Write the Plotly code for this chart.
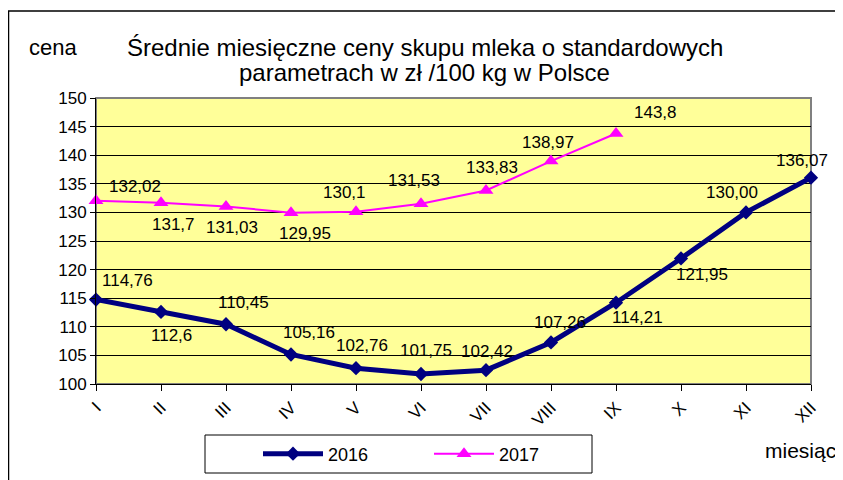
import plotly.graph_objects as go

MONTHS = ['I', 'II', 'III', 'IV', 'V', 'VI', 'VII', 'VIII', 'IX', 'X', 'XI', 'XII']

PRICES_2016 = [114.76, 112.6, 110.45, 105.16, 102.76, 101.75, 102.42, 107.26, 114.21, 121.95, 130.00, 136.07]
LABELS_2016 = ['114,76', '112,6', '110,45', '105,16', '102,76', '101,75', '102,42', '107,26', '114,21', '121,95', '130,00', '136,07']

PRICES_2017 = [132.02, 131.7, 131.03, 129.95, 130.1, 131.53, 133.83, 138.97, 143.8]
LABELS_2017 = ['132,02', '131,7', '131,03', '129,95', '130,1', '131,53', '133,83', '138,97', '143,8']

# label offsets in px (dx right, dy down), mimicking the Excel placement
OFFSETS_2016 = [(31, -19), (10, 24), (17, -22), (18, -22), (6, -23), (5, -23),
                (1, -19), (9, -20), (21, 15), (21, 16), (-14, -20), (-9, -17)]
OFFSETS_2017 = [(39, -14), (12, 22), (6, 21), (14, 21), (-12, -19), (-7, -23),
                (6, -23), (-3, -19), (39, -21)]

FONT = 'Liberation Sans, Arial, sans-serif'
PAGE_OFF = 8  # default body margin of the html page
W, H = 843 - PAGE_OFF, 480 - PAGE_OFF
L, R, T, B = 96, 811, 98, 384  # plot area in page px


def px(x):
    return (x - L) / (R - L)


def py(y):
    return (B - y) / (B - T)


fig = go.Figure()

fig.add_trace(go.Scatter(
    x=MONTHS, y=PRICES_2016, name='2016', mode='lines+markers',
    line=dict(color='#000080', width=5),
    marker=dict(symbol='diamond', size=11, color='#000080'),
    cliponaxis=False
))
fig.add_trace(go.Scatter(
    x=MONTHS[:len(PRICES_2017)], y=PRICES_2017, name='2017', mode='lines+markers',
    line=dict(color='#FF00FF', width=2),
    marker=dict(symbol='triangle-up', size=13, color='#FF00FF'),
    cliponaxis=False
))

# data labels
for xs, ys, labels, offs in [(MONTHS, PRICES_2016, LABELS_2016, OFFSETS_2016),
                             (MONTHS, PRICES_2017, LABELS_2017, OFFSETS_2017)]:
    for m, v, t, (dx, dy) in zip(xs, ys, labels, offs):
        fig.add_annotation(x=m, y=v, text=t, showarrow=False, xshift=dx, yshift=-dy,
                           font=dict(family=FONT, size=17, color='black'))

# titles and axis names
fig.add_annotation(xref='paper', yref='paper', x=px(425), y=py(47), text='Średnie miesięczne ceny skupu mleka o standardowych',
                   showarrow=False, font=dict(family=FONT, size=24, color='black'), xanchor='center', yanchor='middle')
fig.add_annotation(xref='paper', yref='paper', x=px(424), y=py(72), text='parametrach w zł /100 kg w Polsce',
                   showarrow=False, font=dict(family=FONT, size=24, color='black'), xanchor='center', yanchor='middle')
fig.add_annotation(xref='paper', yref='paper', x=px(27), y=py(47), text='cena',
                   showarrow=False, font=dict(family=FONT, size=22, color='black'), xanchor='left', yanchor='middle')
fig.add_annotation(xref='paper', yref='paper', x=px(838), y=py(451), text='miesiąc',
                   showarrow=False, font=dict(family=FONT, size=21, color='black'), xanchor='right', yanchor='middle')

# outer frame, plot border and legend box
fig.add_shape(type='rect', xref='paper', yref='paper', x0=px(PAGE_OFF + 0.5), x1=px(870), y0=py(11), y1=py(520),
              line=dict(color='black', width=1.5), layer='below')
fig.add_shape(type='rect', xref='paper', yref='paper', x0=0, x1=1, y0=0, y1=1,
              line=dict(color='#808080', width=2), layer='below')
fig.add_shape(type='rect', xref='paper', yref='paper', x0=px(205), x1=px(592), y0=py(435), y1=py(473),
              line=dict(color='black', width=1), fillcolor='white', layer='below')

fig.update_layout(
    width=W, height=H,
    margin=dict(l=L - PAGE_OFF, r=W - (R - PAGE_OFF), t=T - PAGE_OFF, b=H - (B - PAGE_OFF), autoexpand=False),
    paper_bgcolor='white', plot_bgcolor='#FFFF99',
    font=dict(family=FONT, size=17, color='black'),
    showlegend=True,
    legend=dict(orientation='h', x=px(258), y=py(454), xanchor='left', yanchor='middle',
                bgcolor='rgba(0,0,0,0)', borderwidth=0, font=dict(family=FONT, size=18),
                entrywidth=96, entrywidthmode='pixels', itemwidth=60)
)
fig.update_xaxes(
    type='category', range=[0, len(MONTHS) - 1], tickangle=-45,
    showline=True, linecolor='black', linewidth=1,
    ticks='outside', ticklen=6, tickcolor='black',
    showgrid=False, tickfont=dict(size=17), automargin=False
)
fig.update_yaxes(
    range=[100, 150], dtick=5, showline=True, linecolor='black', linewidth=1,
    ticks='outside', ticklen=5, tickcolor='black',
    showgrid=True, gridcolor='black', gridwidth=1, zeroline=False, tickfont=dict(size=17), automargin=False
)

fig.write_html('out.html')
